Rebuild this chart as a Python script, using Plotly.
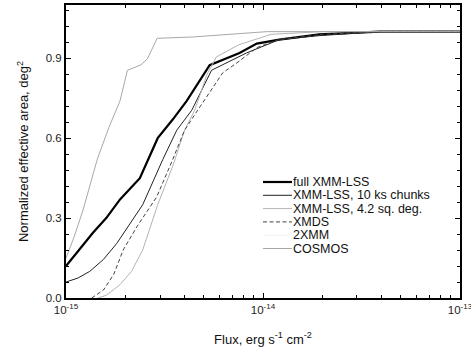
import plotly.graph_objects as go

# ---------------- data ----------------
full_flux = [1.0e-15, 1.15e-15, 1.37e-15, 1.6e-15, 1.88e-15, 2.37e-15, 2.92e-15, 3.48e-15, 4.1e-15,
             5.36e-15, 7.6e-15, 9.3e-15, 1.21e-14, 1.93e-14, 3.9e-14, 1.0e-13]
full_area = [0.12, 0.175, 0.245, 0.30, 0.37, 0.45, 0.60, 0.67, 0.74,
             0.874, 0.92, 0.955, 0.97, 0.99, 1.0, 1.0]

chunk_flux = [1.0e-15, 1.15e-15, 1.32e-15, 1.55e-15, 1.81e-15, 2.45e-15, 3.1e-15, 3.65e-15, 4.35e-15,
              5.48e-15, 8.25e-15, 1.21e-14, 1.93e-14, 3.9e-14, 1.0e-13]
chunk_area = [0.06, 0.075, 0.10, 0.145, 0.205, 0.35, 0.52, 0.63, 0.705,
              0.855, 0.92, 0.97, 0.985, 1.0, 1.0]

sq42_flux = [1.45e-15, 1.6e-15, 1.88e-15, 2.15e-15, 2.45e-15, 2.92e-15, 3.5e-15, 4.0e-15, 4.5e-15,
             5.2e-15, 5.8e-15, 7.5e-15, 1.1e-14, 2.0e-14, 1.0e-13]
sq42_area = [0.0, 0.01, 0.05, 0.10, 0.18, 0.35, 0.50, 0.63, 0.705,
             0.84, 0.905, 0.95, 0.99, 1.0, 1.0]

xmds_flux = [1.35e-15, 1.55e-15, 1.75e-15, 1.95e-15, 2.3e-15, 2.7e-15, 2.89e-15, 3.48e-15, 4.0e-15,
             4.66e-15, 5.17e-15, 6.24e-15, 7.6e-15, 9.3e-15, 1.2e-14, 2.0e-14, 4.0e-14, 1.0e-13]
xmds_area = [0.0, 0.03, 0.09, 0.18, 0.27, 0.35, 0.38, 0.52, 0.63,
             0.705, 0.755, 0.845, 0.89, 0.94, 0.97, 0.99, 1.0, 1.0]

xmm2_flux = [None]
xmm2_area = [None]

cosmos_flux = [1.0e-15, 1.1e-15, 1.22e-15, 1.44e-15, 1.65e-15, 1.88e-15, 2.05e-15, 2.4e-15, 2.6e-15,
               2.9e-15, 4.4e-15, 1.05e-14, 1.0e-13]
cosmos_area = [0.15, 0.23, 0.33, 0.52, 0.64, 0.74, 0.855, 0.875, 0.90,
               0.975, 0.98, 1.0, 1.0]

series_names = ["full XMM-LSS", "XMM-LSS, 10 ks chunks", "XMM-LSS, 4.2 sq. deg.", "XMDS", "2XMM", "COSMOS"]
series_x = [full_flux, chunk_flux, sq42_flux, xmds_flux, xmm2_flux, cosmos_flux]
series_y = [full_area, chunk_area, sq42_area, xmds_area, xmm2_area, cosmos_area]

x_tickvals = [1e-15, 1e-14, 1e-13]
x_ticktext = ["10<sup>-15</sup>", "10<sup>-14</sup>", "10<sup>-13</sup>"]
x_minorvals = [k * 10.0 ** e for e in (-15, -14) for k in range(2, 10)]
y_tickvals = [0.0, 0.3, 0.6, 0.9]
y_ticktext = ["0.0", "0.3", "0.6", "0.9"]

# ---------------- styles ----------------
styles = [
    dict(color="#000000", width=2.2, dash="solid"),
    dict(color="#222222", width=1.0, dash="solid"),
    dict(color="#b4b4b4", width=1.0, dash="solid"),
    dict(color="#444444", width=1.0, dash="4px,2.5px"),
    dict(color="#f2f2f2", width=1.0, dash="solid"),
    dict(color="#a8a8a8", width=1.0, dash="solid"),
]

FONT = "Liberation Sans, Arial, sans-serif"
W, H = 471, 349
ML, MR, MT, MB = 66, 11, 5, 51
PW = W - ML - MR
PH = H - MT - MB

fig = go.Figure()
for name, xs, ys, st in zip(series_names, series_x, series_y, styles):
    fig.add_trace(go.Scatter(x=xs, y=ys, mode="lines", name=name, line=st,
                             showlegend=False, hoverinfo="skip"))

# manual legend (compact row spacing like the reference)
def px_to_paper(px, py):
    return (px - ML) / PW, (H - MB - py) / PH

row0, dy = 182, 13.3
for i, (name, st) in enumerate(zip(series_names, styles)):
    py = row0 + i * dy
    x0, y0 = px_to_paper(263, py)
    x1, _ = px_to_paper(292, py)
    fig.add_shape(type="line", xref="paper", yref="paper", x0=x0, x1=x1, y0=y0, y1=y0,
                  line=dict(color=st["color"], width=st["width"], dash=st["dash"]))
    tx, _ = px_to_paper(292, py)
    fig.add_annotation(xref="paper", yref="paper", x=tx, y=y0, text=name, showarrow=False,
                       xanchor="left", yanchor="middle", borderpad=0,
                       font=dict(family=FONT, size=12.5, color="#111"))

axis_common = dict(showline=True, linecolor="black", linewidth=2, mirror="allticks",
                   ticks="inside", ticklen=5, tickwidth=1, tickcolor="black",
                   showgrid=False, zeroline=False,
                   tickfont=dict(family=FONT, size=11.5, color="#222"))

fig.update_xaxes(type="log", range=[-15.0001, -12.9999], tickvals=x_tickvals, ticktext=x_ticktext,
                 ticklabeloverflow="allow",
                 minor=dict(ticks="inside", ticklen=3, tickvals=x_minorvals, tickcolor="black"),
                 title=dict(text="Flux, erg s<sup>-1</sup> cm<sup>-2</sup>", standoff=20,
                            font=dict(family=FONT, size=13, color="#111")),
                 **axis_common)
fig.update_yaxes(range=[0, 1.1], tickvals=y_tickvals, ticktext=y_ticktext,
                 minor=dict(ticks="inside", ticklen=3, dtick=0.06, tick0=0, tickcolor="black"),
                 title=dict(text="Normalized effective area, deg<sup>2</sup>", standoff=14,
                            font=dict(family=FONT, size=13, color="#111")),
                 **axis_common)

fig.update_layout(width=W, height=H, margin=dict(l=ML, r=MR, t=MT, b=MB, autoexpand=False),
                  paper_bgcolor="white", plot_bgcolor="white", showlegend=False)

fig.write_html("out.html")
